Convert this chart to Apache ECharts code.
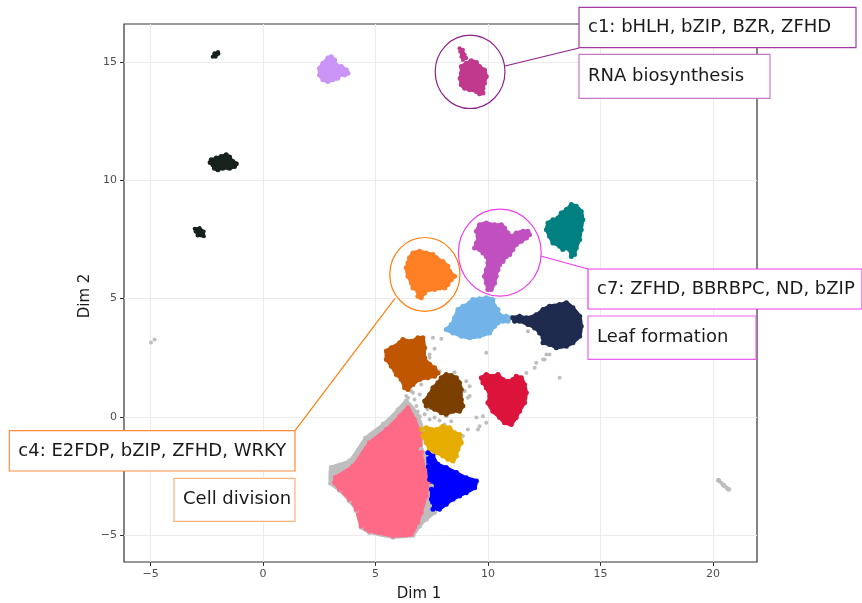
<!DOCTYPE html>
<html>
<head>
<meta charset="utf-8">
<script src="https://cdn.jsdelivr.net/npm/echarts@6/dist/echarts.min.js"></script>
<style>
  html, body { margin: 0; padding: 0; background: #fff; }
  #chart { width: 862px; height: 603px; }
</style>
</head>
<body>
<div id="chart"></div>
<script>
// tick labels
var xTicks = [-5, 0, 5, 10, 15, 20];
var yTicks = [-5, 0, 5, 10, 15];

// cluster outlines [dim1, dim2]
var pinkCells = [[6.44,0.39],[6.73,-0.11],[6.96,-0.65],[7.03,-1.49],[7.18,-2.22],[7.32,-2.78],[7.25,-3.34],[7.03,-4.04],[6.88,-4.46],[6.59,-4.96],[5.77,-5.03],[4.73,-4.82],[4.36,-4.61],[4.14,-3.90],[3.84,-3.48],[3.40,-3.06],[3.18,-2.78],[3.22,-2.55],[3.99,-2.08],[4.73,-1.09],[5.48,-0.53],[6.07,0.03]];
var greyHalo = [[6.36,0.67],[6.81,0.18],[7.10,-0.53],[7.03,-1.37],[7.25,-1.58],[7.32,-2.08],[7.48,-2.92],[7.40,-3.76],[7.62,-4.04],[7.25,-4.32],[6.96,-4.61],[6.66,-5.00],[5.77,-5.08],[4.73,-4.88],[4.36,-4.66],[4.14,-3.95],[3.84,-3.55],[3.40,-3.10],[3.00,-2.80],[3.03,-2.14],[3.85,-1.85],[4.55,-0.90],[5.35,-0.30],[6.00,0.30]];
var yellowCells = [[7.03,-0.53],[7.25,-0.46],[7.70,-0.53],[7.99,-0.39],[8.29,-0.46],[8.51,-0.67],[8.73,-0.74],[8.81,-1.09],[8.66,-1.37],[8.59,-1.65],[8.44,-1.86],[8.21,-1.79],[7.99,-1.65],[7.70,-1.51],[7.40,-1.37],[7.25,-1.09],[7.10,-0.81]];
var blueCells = [[7.32,-1.51],[7.55,-1.65],[7.77,-2.00],[8.14,-2.14],[8.59,-2.35],[9.03,-2.57],[9.48,-2.71],[9.40,-2.99],[9.03,-3.20],[8.73,-3.34],[8.44,-3.48],[8.14,-3.69],[7.84,-3.90],[7.55,-3.90],[7.48,-3.48],[7.48,-3.06],[7.40,-2.64],[7.34,-2.10]];
var lightBlueCells = [[8.14,3.69],[8.36,3.90],[8.51,4.19],[8.66,4.54],[8.88,4.68],[9.18,4.82],[9.32,4.96],[9.62,4.99],[9.92,5.03],[10.21,4.96],[10.29,4.68],[10.44,4.54],[10.51,4.32],[10.81,4.25],[11.03,4.19],[10.88,4.04],[10.66,4.04],[10.44,3.97],[10.29,3.83],[10.07,3.55],[9.62,3.41],[9.18,3.34],[8.81,3.41],[8.44,3.55]];
var navyCells = [[11.10,4.19],[11.40,4.25],[11.70,4.19],[12.14,4.32],[12.44,4.54],[12.73,4.68],[13.18,4.75],[13.48,4.82],[13.77,4.61],[14.07,4.25],[14.14,3.83],[14.07,3.41],[13.77,3.13],[13.48,2.99],[13.03,2.92],[12.73,3.06],[12.44,3.13],[12.44,3.34],[12.29,3.55],[12.07,3.76],[11.77,3.90],[11.40,4.04],[11.18,4.04]];
var rustCells = [[5.48,2.78],[5.70,2.92],[6.07,3.13],[6.21,3.27],[6.59,3.20],[6.88,3.34],[7.10,3.34],[7.18,2.92],[7.18,2.50],[7.40,2.22],[7.62,2.08],[7.77,1.86],[7.62,1.72],[7.32,1.65],[6.96,1.58],[6.66,1.37],[6.44,1.16],[6.29,1.23],[6.14,1.58],[5.92,1.79],[5.70,2.14],[5.48,2.43]];
var brownCells = [[7.92,1.65],[8.14,1.79],[8.36,1.75],[8.59,1.65],[8.73,1.44],[8.81,1.16],[8.81,0.74],[8.88,0.46],[8.73,0.24],[8.44,0.24],[8.14,0.11],[7.92,0.18],[7.62,0.32],[7.25,0.46],[7.18,0.67],[7.40,0.95],[7.55,1.23],[7.77,1.44]];
var redCells = [[9.70,1.65],[9.92,1.79],[10.21,1.72],[10.44,1.79],[10.66,1.58],[10.88,1.51],[11.10,1.58],[11.25,1.72],[11.48,1.65],[11.62,1.37],[11.70,1.02],[11.62,0.60],[11.40,0.24],[11.25,-0.03],[11.03,-0.32],[10.73,-0.25],[10.51,-0.03],[10.21,0.24],[9.99,0.60],[10.07,0.88],[9.92,1.23],[9.77,1.44]];
var orangeCells = [[6.51,6.72],[6.66,6.93],[6.96,7.00],[7.25,6.93],[7.55,6.86],[7.70,6.72],[7.99,6.57],[8.21,6.36],[8.29,6.15],[8.51,5.94],[8.36,5.80],[8.21,5.59],[8.07,5.45],[7.84,5.45],[7.62,5.38],[7.40,5.38],[7.18,5.24],[7.03,5.03],[6.88,5.10],[6.88,5.31],[6.66,5.45],[6.59,5.66],[6.44,5.94],[6.36,6.30],[6.44,6.51]];
var orchidCells = [[9.62,8.12],[9.92,8.19],[10.29,8.12],[10.59,8.12],[10.73,7.98],[10.88,7.77],[11.03,7.63],[11.25,7.77],[11.55,7.84],[11.77,7.84],[11.84,7.70],[11.70,7.56],[11.48,7.42],[11.25,7.28],[11.10,7.07],[10.96,6.86],[10.81,6.78],[10.66,6.57],[10.51,6.43],[10.44,6.22],[10.36,5.94],[10.29,5.66],[10.14,5.38],[9.99,5.38],[9.92,5.66],[9.84,5.94],[9.92,6.22],[9.99,6.51],[9.92,6.78],[9.77,6.93],[9.62,7.07],[9.40,7.14],[9.48,7.35],[9.55,7.63],[9.48,7.84]];
var tealCells = [[13.25,8.62],[13.48,8.76],[13.70,8.97],[13.92,8.90],[14.14,8.68],[14.21,8.33],[14.14,7.91],[14.07,7.49],[13.92,7.14],[13.84,6.86],[13.70,6.78],[13.62,7.07],[13.48,7.14],[13.32,7.07],[13.18,7.21],[12.88,7.35],[12.73,7.63],[12.59,7.91],[12.66,8.19],[12.88,8.33],[13.10,8.40]];
var magentaCells = [[8.81,14.80],[9.03,14.94],[9.25,15.05],[9.48,14.97],[9.62,14.80],[9.84,14.66],[9.92,14.38],[9.84,14.10],[9.77,13.89],[9.77,13.68],[9.62,13.65],[9.48,13.75],[9.18,13.82],[8.96,13.89],[8.81,14.03],[8.76,14.31],[8.81,14.52]];
var magentaTip = [[8.73,15.58],[8.88,15.51],[8.96,15.30],[9.03,15.16],[8.88,15.08],[8.81,15.22],[8.76,15.44]];
var lilacCells = [[2.51,14.73],[2.66,14.94],[2.88,15.16],[3.03,15.22],[3.18,15.08],[3.25,14.87],[3.48,14.80],[3.70,14.66],[3.77,14.52],[3.62,14.45],[3.40,14.45],[3.32,14.31],[3.10,14.24],[2.88,14.17],[2.66,14.24],[2.51,14.45]];
var blackCells = [[-2.30,10.86],[-2.08,10.94],[-1.86,11.00],[-1.64,11.08],[-1.49,10.98],[-1.34,10.79],[-1.19,10.70],[-1.27,10.58],[-1.49,10.51],[-1.79,10.51],[-2.01,10.44],[-2.16,10.51],[-2.23,10.65],[-2.35,10.75]];
var blackTop = [[-2.24,15.22],[-2.16,15.36],[-2.00,15.42],[-1.98,15.34],[-2.11,15.22]];
var blackSmall = [[-3.04,7.95],[-2.82,7.98],[-2.64,7.83],[-2.63,7.63],[-2.91,7.66],[-3.00,7.83]];
var greyTrail = [[20.24,-2.68],[20.47,-2.89],[20.69,-3.06]];

// loose unassigned cells
var greyDots = [[-4.98,3.14],[-4.82,3.27],[20.24,-2.68],[20.36,-2.78],[20.47,-2.89],[20.60,-3.00],[20.69,-3.06],
  [7.55,3.34],[7.92,3.30],[7.62,2.88],[7.40,2.50],[7.40,2.64],[9.92,2.71],[11.77,3.62],[12.59,2.64],[12.51,2.43],
  [12.07,2.08],[11.70,1.86],[13.18,1.65],[12.73,2.64],[12.44,2.43],[12.14,2.29],[10.88,4.19],[10.95,4.12],[11.05,4.20],
  [7.84,1.93],[8.51,1.89],[9.03,1.51],[9.18,1.30],[8.96,1.09],[9.10,0.81],[7.03,1.37],[6.66,1.02],[6.44,0.81],
  [9.62,-0.39],[9.92,-0.25],[6.36,0.88],[6.51,0.46],[6.81,0.46],[6.96,0.03],[8.14,0.03],[8.36,-0.18],[9.18,0.88],
  [9.48,-0.03],[9.77,0.03],[9.55,-0.53],[9.10,-0.53],[8.88,-0.81],[6.73,0.74],[6.96,0.95],[7.18,0.11],[7.40,-0.11],
  [7.62,-0.02],[7.84,-0.15],[8.07,-0.32],[6.87,0.23],[6.60,1.08],[7.31,0.32]];

// highlighted clusters: centre and radius in data units
var highlightC1 = [9.20, 14.58, 1.55];
var highlightC7 = [10.52, 6.94, 1.84];
var highlightC4 = [7.19, 6.02, 1.56];

var chart = echarts.init(document.getElementById('chart'));

// filled outline plus its vertices as dots, for a speckled edge
function blob(name, pts, color, width) {
  return [{
    type: 'custom',
    name: name,
    data: pts,
    silent: true,
    animation: false,
    renderItem: function (params, api) {
      if (params.dataIndex !== 0) return;
      var points = pts.map(function (p) { return api.coord(p); });
      return {
        type: 'polygon',
        shape: { points: points, smooth: 0.2 },
        style: { fill: color, stroke: color, lineWidth: width || 3, lineJoin: 'round' }
      };
    }
  }, {
    type: 'scatter',
    name: name,
    data: pts,
    symbolSize: (width || 3) + 2,
    silent: true,
    animation: false,
    itemStyle: { color: color, opacity: 1 }
  }];
}

function ring(c, color) {
  return {
    type: 'custom',
    data: [c],
    silent: true,
    animation: false,
    z: 5,
    renderItem: function (params, api) {
      var ctr = api.coord([api.value(0), api.value(1)]);
      var size = api.size([api.value(2), api.value(2)]);
      return {
        type: 'ellipse',
        shape: { cx: ctr[0], cy: ctr[1], rx: size[0], ry: size[1] },
        style: { fill: null, stroke: color, lineWidth: 1.2 }
      };
    }
  };
}

function minus(v) { return String(v).replace('-', '\u2212'); }

var font = '"DejaVu Sans", sans-serif';

function labelBox(x, y, w, h, text, border) {
  return [
    { type: 'rect', z: 30, shape: { x: x, y: y, width: w, height: h },
      style: { fill: '#fff', stroke: border, lineWidth: 1.2 } },
    { type: 'text', z: 31, x: x + 9, y: y + h / 2,
      style: { text: text, fill: '#1a1a1a', font: '18px ' + font, verticalAlign: 'middle' } }
  ];
}

var series = [].concat(
  blob('grey halo', greyHalo, '#bebebe', 3),
  [{
    type: 'scatter', data: greyDots, symbolSize: 4, silent: true, animation: false,
    itemStyle: { color: '#bebebe', opacity: 1 }
  }],
  blob('grey trail', greyTrail, '#bebebe', 3),
  blob('pink', pinkCells, '#ff6a87'),
  blob('yellow', yellowCells, '#e6ad00'),
  blob('blue', blueCells, '#0000ff'),
  blob('light blue', lightBlueCells, '#73b4e8'),
  blob('navy', navyCells, '#1f2a4f'),
  blob('rust', rustCells, '#c05600'),
  blob('brown', brownCells, '#7b3f00'),
  blob('red', redCells, '#dc143c'),
  blob('orange', orangeCells, '#ff7f24'),
  blob('orchid', orchidCells, '#c050c0'),
  blob('teal', tealCells, '#008080'),
  blob('magenta', magentaCells, '#c0398c'),
  blob('magenta tip', magentaTip, '#c0398c', 2),
  blob('lilac', lilacCells, '#c994f5'),
  blob('black', blackCells, '#17221d'),
  blob('black top', blackTop, '#17221d', 2),
  blob('black small', blackSmall, '#17221d', 2),
  [ring(highlightC1, '#8e1f8e'), ring(highlightC7, '#f03cf0'), ring(highlightC4, '#ff7f0e')]
);

chart.setOption({
  backgroundColor: '#fff',
  grid: { left: 124, right: 105, top: 24, bottom: 41, show: true, borderColor: '#333', borderWidth: 1.2, backgroundColor: 'transparent' },
  xAxis: {
    type: 'value', min: -6.18, max: 21.95, splitNumber: 5,
    axisLine: { show: false, onZero: false },
    axisTick: { show: true, inside: false, length: 4, customValues: xTicks, lineStyle: { color: '#333' } },
    axisLabel: { customValues: xTicks, formatter: minus, color: '#4d4d4d', fontSize: 11, fontFamily: font, margin: 7 },
    splitLine: { show: true, lineStyle: { color: '#ebebeb', width: 1 } }
  },
  yAxis: {
    type: 'value', min: -6.13, max: 16.6, splitNumber: 5,
    axisLine: { show: false, onZero: false },
    axisTick: { show: true, inside: false, length: 4, customValues: yTicks, lineStyle: { color: '#333' } },
    axisLabel: { customValues: yTicks, formatter: minus, color: '#4d4d4d', fontSize: 11, fontFamily: font, margin: 7 },
    splitLine: { show: true, lineStyle: { color: '#ebebeb', width: 1 } }
  },
  series: series,
  graphic: [].concat(
    [
      { type: 'line', z: 29, shape: { x1: 505, y1: 66, x2: 579, y2: 48 }, style: { stroke: '#8e1f8e', lineWidth: 1.2 } },
      { type: 'line', z: 29, shape: { x1: 540.7, y1: 256, x2: 588, y2: 269 }, style: { stroke: '#f03cf0', lineWidth: 1.2 } },
      { type: 'line', z: 29, shape: { x1: 395, y1: 298.3, x2: 295, y2: 430.7 }, style: { stroke: '#ff7f0e', lineWidth: 1.2 } }
    ],
    labelBox(579, 7.3, 277, 40.4, 'c1: bHLH, bZIP, BZR, ZFHD', '#a23ca2'),
    labelBox(579, 54.3, 191, 44, 'RNA biosynthesis', '#c47ac8'),
    labelBox(588, 269, 274, 40, 'c7: ZFHD, BBRBPC, ND, bZIP', '#f03cf0'),
    labelBox(588, 316, 168, 43.3, 'Leaf formation', '#f060f0'),
    labelBox(9.3, 430.7, 285.7, 40.3, 'c4: E2FDP, bZIP, ZFHD, WRKY', '#ff8c3a'),
    labelBox(174, 478.3, 121, 43, 'Cell division', '#ffb27a'),
    [
      { type: 'text', x: 419, y: 594, style: { text: 'Dim 1', fill: '#1a1a1a', font: '15px ' + font, align: 'center', verticalAlign: 'middle' } },
      { type: 'text', x: 85, y: 296, rotation: Math.PI / 2, style: { text: 'Dim 2', fill: '#1a1a1a', font: '15px ' + font, align: 'center', verticalAlign: 'middle' } }
    ]
  )
});
</script>
</body>
</html>
